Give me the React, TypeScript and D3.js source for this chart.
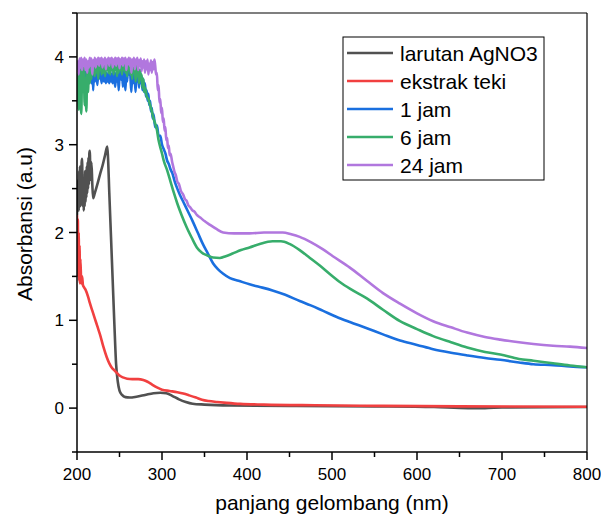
import React from "react";
import * as d3 from "d3";

// wavelength (nm), absorbance (a.u) pairs
const larutanAgNO3: [number, number][] = [
  [200, 2.2], [200.5, 2.5], [201, 2.3], [201.5, 2.6], [202, 2.25], [202.5, 2.7], [203, 2.35],
  [203.5, 2.75], [204, 2.3], [204.5, 2.6], [205, 2.4], [205.5, 2.8], [206, 2.84], [206.5, 2.45],
  [207, 2.3], [207.5, 2.6], [208, 2.25], [208.5, 2.5], [209, 2.3], [209.5, 2.7], [210, 2.35],
  [210.5, 2.65], [211, 2.4], [211.5, 2.75], [212, 2.45], [212.5, 2.8], [213, 2.5], [213.5, 2.85],
  [214, 2.55], [214.5, 2.9], [215, 2.93], [216, 2.6], [217, 2.8], [218, 2.55], [219, 2.39],
  [221, 2.45], [224, 2.55], [227, 2.66], [230, 2.76], [233, 2.88], [235.6, 2.98], [236.5, 2.85],
  [238, 2.45], [240, 1.95], [242, 1.45], [244, 0.95], [246, 0.5], [248, 0.3], [250, 0.2],
  [253, 0.15], [257, 0.125], [262, 0.12], [270, 0.13], [280, 0.15], [290, 0.17], [298, 0.175],
  [305, 0.17], [312, 0.14], [320, 0.1], [328, 0.07], [336, 0.05], [350, 0.04], [380, 0.03],
  [450, 0.025], [550, 0.02], [620, 0.012], [660, 0.0], [680, 0.0], [700, 0.008], [800, 0.012],
];

const ekstrakTeki: [number, number][] = [
  [200, 2.2], [200.5, 1.6], [201, 2.15], [201.5, 1.5], [202, 2.0], [202.5, 1.45], [203, 1.85],
  [203.5, 1.42], [204, 1.7], [205, 1.42], [206, 1.5], [207, 1.4], [208, 1.38], [210, 1.35],
  [213, 1.27], [215, 1.2], [218, 1.11], [221, 1.02], [224, 0.93], [227, 0.84], [231, 0.7],
  [235, 0.58], [238, 0.51], [241, 0.46], [244, 0.43], [247, 0.4], [250, 0.37], [254, 0.35],
  [259, 0.335], [265, 0.33], [272, 0.33], [278, 0.32], [283, 0.3], [288, 0.27], [294, 0.235],
  [300, 0.21], [309, 0.195], [318, 0.18], [325, 0.165], [332, 0.145], [340, 0.12], [347, 0.095],
  [355, 0.08], [365, 0.07], [376, 0.06], [392, 0.048], [420, 0.04], [480, 0.032], [560, 0.025],
  [650, 0.02], [800, 0.015],
];

const jam1: [number, number][] = [
  [200, 3.5], [201, 3.72], [202, 3.6], [203, 3.85], [204, 3.7], [205, 3.9], [206, 3.75],
  [207, 3.92], [208, 3.8], [209, 3.65], [210, 3.88], [211, 3.72], [212, 3.9], [213, 3.78],
  [214, 3.95], [215, 3.8], [216, 3.88], [217, 3.7], [218, 3.9], [219, 3.62], [220, 3.85],
  [221, 3.72], [222, 3.9], [223, 3.8], [224, 3.68], [225, 3.85], [226, 3.75], [227, 3.9],
  [228, 3.8], [229, 3.7], [230, 3.86], [231, 3.76], [232, 3.72], [233, 3.85], [234, 3.7],
  [235, 3.82], [236, 3.72], [237, 3.8], [238, 3.7], [239, 3.85], [240, 3.72], [241, 3.8],
  [242, 3.7], [243, 3.85], [244, 3.75], [245, 3.66], [246, 3.82], [247, 3.72], [248, 3.85],
  [249, 3.62], [250, 3.8], [251, 3.9], [252, 3.74], [253, 3.85], [254, 3.66], [255, 3.88],
  [256, 3.76], [257, 3.62], [258, 3.85], [259, 3.72], [260, 3.9], [261, 3.8], [262, 3.95],
  [263, 3.75], [264, 3.6], [265, 3.85], [266, 3.7], [267, 3.9], [268, 3.75], [269, 3.6],
  [270, 3.88], [271, 3.72], [272, 3.8], [273, 3.65], [274, 3.85], [275, 3.7], [276, 3.78],
  [277, 3.62], [278, 3.75], [279, 3.6], [280, 3.7], [281, 3.55], [282, 3.62], [283, 3.5],
  [284, 3.58], [285, 3.45], [286, 3.5], [287, 3.38], [288, 3.42], [289, 3.3], [290, 3.35],
  [292, 3.2], [294, 3.22], [296, 3.1], [298, 3.1], [300, 3.0], [302, 2.95], [304, 2.9],
  [306, 2.82], [308, 2.78], [310, 2.72], [312, 2.68], [315, 2.58], [318, 2.5], [321, 2.43],
  [325, 2.35], [330, 2.25], [336, 2.13], [342, 2.0], [348, 1.87], [354, 1.76], [360, 1.65],
  [366, 1.58], [372, 1.53], [380, 1.48], [390, 1.45], [403, 1.41], [415, 1.38], [430, 1.34],
  [445, 1.29], [462, 1.22], [475, 1.17], [489, 1.11], [505, 1.04], [521, 0.98], [541, 0.91],
  [560, 0.84], [580, 0.77], [600, 0.72], [619, 0.67], [640, 0.63], [659, 0.6], [680, 0.57],
  [698, 0.55], [720, 0.52], [737, 0.5], [760, 0.49], [780, 0.475], [800, 0.465],
];

const jam6: [number, number][] = [
  [200, 3.55], [201, 3.8], [202, 3.4], [203, 3.9], [204, 3.5], [205, 3.35], [206, 3.85],
  [207, 3.6], [208, 3.95], [209, 3.45], [210, 3.75], [211, 3.38], [212, 3.9], [213, 3.6],
  [214, 3.95], [215, 3.7], [216, 3.88], [217, 3.75], [218, 3.95], [219, 3.8], [220, 3.92],
  [221, 3.78], [222, 3.96], [223, 3.82], [224, 3.9], [225, 3.75], [226, 3.95], [227, 3.85],
  [228, 3.97], [229, 3.8], [230, 3.92], [231, 3.82], [232, 3.96], [233, 3.78], [234, 3.9],
  [235, 3.85], [236, 3.97], [237, 3.82], [238, 3.92], [239, 3.8], [240, 3.95], [241, 3.85],
  [242, 3.97], [243, 3.8], [244, 3.92], [245, 3.85], [246, 3.96], [247, 3.78], [248, 3.9],
  [249, 3.82], [250, 3.97], [251, 3.85], [252, 3.92], [253, 3.8], [254, 3.95], [255, 3.85],
  [256, 3.97], [257, 3.82], [258, 3.92], [259, 3.78], [260, 3.95], [261, 3.85], [262, 3.97],
  [263, 3.8], [264, 3.92], [265, 3.75], [266, 3.95], [267, 3.82], [268, 3.9], [269, 3.72],
  [270, 3.92], [271, 3.78], [272, 3.88], [273, 3.7], [274, 3.85], [275, 3.75], [276, 3.8],
  [277, 3.65], [278, 3.75], [279, 3.6], [280, 3.65], [282, 3.55], [284, 3.52], [286, 3.45],
  [288, 3.38], [290, 3.3], [292, 3.24], [294, 3.17], [296, 3.05], [298, 2.97], [300, 2.9],
  [302, 2.82], [306, 2.71], [310, 2.58], [314, 2.45], [318, 2.33], [323, 2.2], [329, 2.06],
  [335, 1.94], [341, 1.83], [347, 1.77], [353, 1.74], [360, 1.715], [368, 1.71], [375, 1.73],
  [383, 1.76], [393, 1.8], [403, 1.83], [415, 1.87], [430, 1.9], [440, 1.9], [450, 1.87],
  [462, 1.8], [474, 1.71], [486, 1.62], [497, 1.53], [510, 1.43], [521, 1.36], [541, 1.25],
  [560, 1.12], [580, 0.99], [600, 0.9], [619, 0.82], [640, 0.75], [659, 0.69], [680, 0.64],
  [698, 0.61], [720, 0.56], [737, 0.54], [760, 0.51], [780, 0.485], [800, 0.465],
];

const jam24: [number, number][] = [
  [200, 3.85], [201, 3.95], [202, 3.8], [203, 3.98], [204, 3.88], [205, 3.99], [206, 3.85],
  [207, 3.97], [208, 3.9], [209, 3.99], [210, 3.85], [211, 3.97], [212, 3.82], [213, 3.95],
  [214, 3.88], [215, 3.99], [216, 3.9], [217, 3.98], [218, 3.8], [219, 3.96], [220, 3.9],
  [221, 3.99], [222, 3.88], [223, 3.97], [224, 3.92], [225, 3.99], [226, 3.9], [227, 3.98],
  [228, 3.93], [229, 3.99], [230, 3.88], [231, 3.97], [232, 3.92], [233, 3.99], [234, 3.86],
  [235, 3.97], [236, 3.93], [237, 3.99], [238, 3.9], [239, 3.98], [240, 3.94], [241, 3.99],
  [242, 3.88], [243, 3.97], [244, 3.92], [245, 3.99], [246, 3.9], [247, 3.98], [248, 3.93],
  [249, 3.99], [250, 3.87], [251, 3.97], [252, 3.92], [253, 3.99], [254, 3.9], [255, 3.98],
  [256, 3.93], [257, 3.99], [258, 3.85], [259, 3.97], [260, 3.92], [261, 3.99], [262, 3.9],
  [263, 3.98], [264, 3.82], [265, 3.97], [266, 3.9], [267, 3.99], [268, 3.86], [269, 3.97],
  [270, 3.92], [271, 3.99], [272, 3.85], [273, 3.96], [274, 3.9], [275, 3.98], [276, 3.84],
  [277, 3.95], [278, 3.88], [279, 3.97], [280, 3.82], [281, 3.95], [282, 3.86], [283, 3.97],
  [284, 3.8], [285, 3.92], [286, 3.85], [287, 3.96], [288, 3.82], [289, 3.94], [290, 3.86],
  [291, 3.97], [292, 3.9], [293, 3.8], [294, 3.82], [295, 3.62], [296, 3.68], [297, 3.48],
  [298, 3.52], [299, 3.36], [300, 3.42], [301, 3.26], [302, 3.3], [303, 3.16], [304, 3.2],
  [305, 3.05], [306, 3.08], [307, 2.96], [308, 2.99], [309, 2.88], [310, 2.9], [312, 2.8],
  [313, 2.76], [315, 2.68], [316, 2.66], [318, 2.58], [320, 2.55], [322, 2.48], [325, 2.43],
  [327, 2.38], [329, 2.36], [331, 2.31], [333, 2.29], [336, 2.25], [338, 2.24], [341, 2.2],
  [345, 2.17], [350, 2.13], [356, 2.09], [364, 2.04], [372, 2.0], [385, 1.99], [403, 1.99],
  [420, 2.0], [442, 2.0], [452, 1.98], [462, 1.95], [475, 1.89], [489, 1.81], [501, 1.73],
  [521, 1.6], [541, 1.45], [560, 1.31], [580, 1.19], [600, 1.08], [619, 0.99], [640, 0.92],
  [659, 0.86], [680, 0.81], [698, 0.78], [720, 0.75], [737, 0.73], [760, 0.71], [780, 0.7],
  [800, 0.685],
];

const seriesNames = ["larutan AgNO3", "ekstrak teki", "1 jam", "6 jam", "24 jam"];
const seriesData = [larutanAgNO3, ekstrakTeki, jam1, jam6, jam24];
const seriesColors = ["#515151", "#F14040", "#1A6FDF", "#37AD6B", "#B177DE"];

const xTicks = [200, 300, 400, 500, 600, 700, 800];
const xMinorTicks = [250, 350, 450, 550, 650, 750];
const yTicks = [0, 1, 2, 3, 4];
const yMinorTicks = [-0.5, 0.5, 1.5, 2.5, 3.5, 4.5];

const W = 601;
const H = 520;
const left = 77;
const right = 587;
const top = 13;
const bottom = 452;
const font = "'Liberation Sans', Arial, sans-serif";

export default function App() {
  const x = d3.scaleLinear().domain([200, 800]).range([left, right]);
  const y = d3.scaleLinear().domain([-0.5, 4.5]).range([bottom, top]);
  const line = d3
    .line<[number, number]>()
    .x((d) => x(d[0]))
    .y((d) => y(d[1]))
    .curve(d3.curveMonotoneX);

  return (
    <svg
      width={W}
      height={H}
      style={{ position: "absolute", left: 0, top: 0, background: "#fff" }}
      fontFamily={font}
    >
      <defs>
        <clipPath id="plot">
          <rect x={left} y={top} width={right - left} height={bottom - top} />
        </clipPath>
      </defs>

      <g clipPath="url(#plot)">
        {seriesData.map((d, i) => (
          <path
            key={seriesNames[i]}
            d={line(d) || ""}
            fill="none"
            stroke={seriesColors[i]}
            strokeWidth={2.6}
            strokeLinejoin="round"
          />
        ))}
      </g>

      {/* frame */}
      <line x1={left} x2={right} y1={top} y2={top} stroke="#000" strokeWidth={1.2} />
      <line x1={right} x2={right} y1={top} y2={bottom} stroke="#000" strokeWidth={1.2} />
      <line x1={left} x2={left} y1={top} y2={bottom} stroke="#000" strokeWidth={1.5} />
      <line x1={left} x2={right} y1={bottom} y2={bottom} stroke="#000" strokeWidth={1.5} />

      {/* x ticks */}
      {xTicks.map((t) => (
        <g key={"x" + t}>
          <line x1={x(t)} x2={x(t)} y1={bottom} y2={bottom + 8} stroke="#000" strokeWidth={1.5} />
          <text x={x(t)} y={480} fontSize={17} textAnchor="middle">
            {t}
          </text>
        </g>
      ))}
      {xMinorTicks.map((t) => (
        <line key={"xm" + t} x1={x(t)} x2={x(t)} y1={bottom} y2={bottom + 5} stroke="#000" strokeWidth={1.5} />
      ))}

      {/* y ticks */}
      {yTicks.map((t) => (
        <g key={"y" + t}>
          <line x1={left - 8} x2={left} y1={y(t)} y2={y(t)} stroke="#000" strokeWidth={1.5} />
          <text x={left - 13} y={y(t) + 6} fontSize={17} textAnchor="end">
            {t}
          </text>
        </g>
      ))}
      {yMinorTicks.map((t) => (
        <line key={"ym" + t} x1={left - 5} x2={left} y1={y(t)} y2={y(t)} stroke="#000" strokeWidth={1.5} />
      ))}

      {/* axis titles */}
      <text x={(left + right) / 2} y={510} fontSize={21} textAnchor="middle">
        panjang gelombang (nm)
      </text>
      <text transform="translate(32,224) rotate(-90)" fontSize={21} textAnchor="middle">
        Absorbansi (a.u)
      </text>

      {/* legend */}
      <rect x={343} y={37} width={201} height={143} fill="#fff" stroke="#000" strokeWidth={1} />
      {seriesNames.map((name, i) => (
        <g key={"lg" + name} transform={`translate(0,${53 + i * 28})`}>
          <line x1={347} x2={393} y1={0} y2={0} stroke={seriesColors[i]} strokeWidth={2.5} />
          <text x={400} y={7.5} fontSize={21}>
            {name}
          </text>
        </g>
      ))}
    </svg>
  );
}
